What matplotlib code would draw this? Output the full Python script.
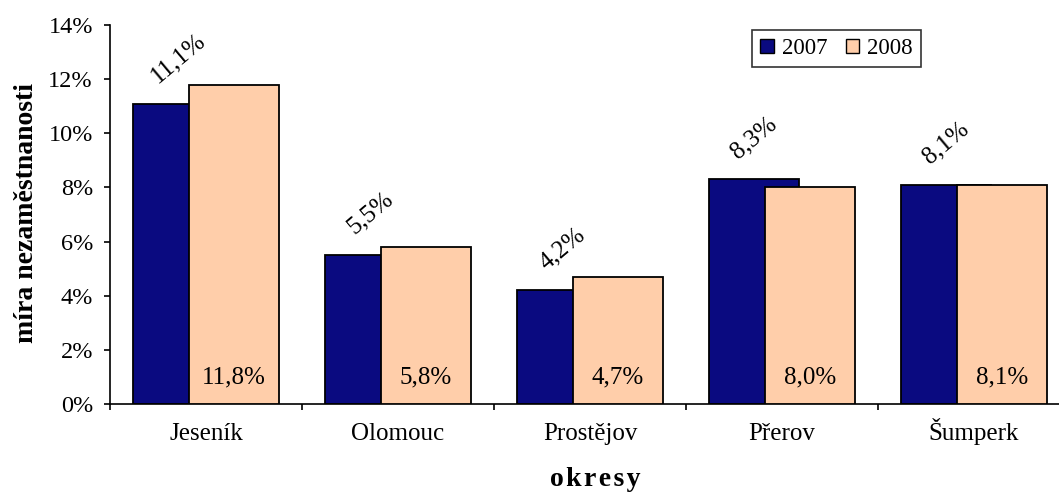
import numpy as np
import matplotlib
matplotlib.use("Agg")
import matplotlib.pyplot as plt
from matplotlib.patches import Patch

plt.rcParams["font.family"] = ["Liberation Serif", "DejaVu Serif"]

okresy = ["Jeseník", "Olomouc", "Prostějov", "Přerov", "Šumperk"]
mira_2007 = [11.1, 5.5, 4.2, 8.3, 8.1]
mira_2008 = [11.8, 5.8, 4.7, 8.0, 8.1]

BARVA_2007 = "#0A0A80"
BARVA_2008 = "#FFCEAA"
VELIKOST = 18

fig = plt.figure(figsize=(10.59, 4.92), dpi=100)
# osa je schválně širší než obrázek, pravý okraj se ořízne
ax = fig.add_axes([110 / 1059, 88 / 492, 960 / 1059, 379 / 492])

x = np.arange(len(okresy))
sirka = 0.47
posun = 0.146

ax.bar(x - posun, mira_2007, sirka, color=BARVA_2007, edgecolor="black", linewidth=1.3, zorder=2)
ax.bar(x + posun, mira_2008, sirka, color=BARVA_2008, edgecolor="black", linewidth=1.3, zorder=3)

for xi, v in zip(x, mira_2007):
    ax.annotate(f"{v:.1f}%".replace(".", ","), (xi - posun, v), xytext=(0, 12),
                textcoords="offset points", ha="center", va="bottom",
                rotation=40, fontsize=VELIKOST)
for xi, v in zip(x, mira_2008):
    ax.annotate(f"{v:.1f}%".replace(".", ","), (xi + posun, 0), xytext=(0, 19),
                textcoords="offset points", ha="center", va="center",
                fontsize=VELIKOST, zorder=4)

ax.set_xlim(-0.5, len(okresy) - 0.5)
ax.set_ylim(0, 14)
ax.set_yticks(range(0, 15, 2))
ax.set_yticklabels([f"{t}%" for t in range(0, 15, 2)])

# hranice mezi okresy jako čárky, názvy okresů zvlášť na účaří
ax.set_xticks(np.arange(-0.5, len(okresy), 1.0))
ax.set_xticklabels([])
for xi, nazev in zip(x, okresy):
    ax.annotate(nazev, (xi, 0), xytext=(0, -26), textcoords="offset points",
                ha="center", va="baseline", fontsize=VELIKOST)

ax.tick_params(axis="y", direction="out", length=4.3, width=1.2, labelsize=17.5, pad=8)
ax.tick_params(axis="x", direction="out", length=4.3, width=1.2)

for s in ["top", "right"]:
    ax.spines[s].set_visible(False)
for s in ["left", "bottom"]:
    ax.spines[s].set_linewidth(1.2)

fig.text(27 / 1059, 1 - 213 / 492, "míra nezaměstnanosti", rotation=90,
         ha="center", va="center", fontsize=20, fontweight="bold")
fig.text(595 / 1059, 1 - 479 / 492, "\u200a".join("okresy"), ha="center", va="center",
         fontsize=20, fontweight="bold")

handles = [Patch(facecolor=BARVA_2007, edgecolor="black", linewidth=1.0),
           Patch(facecolor=BARVA_2008, edgecolor="black", linewidth=1.0)]
leg = fig.legend(handles, ["2007", "2008"], loc="upper left", ncol=2,
                 bbox_to_anchor=(752 / 1059, 1 - 30 / 492), borderaxespad=0,
                 fontsize=16.5, frameon=True, fancybox=False, edgecolor="black",
                 handlelength=0.6, handleheight=0.6, handletextpad=0.35,
                 columnspacing=0.8, borderpad=0.35)
leg.get_frame().set_linewidth(1.2)

fig.savefig("out.png", dpi=100)
